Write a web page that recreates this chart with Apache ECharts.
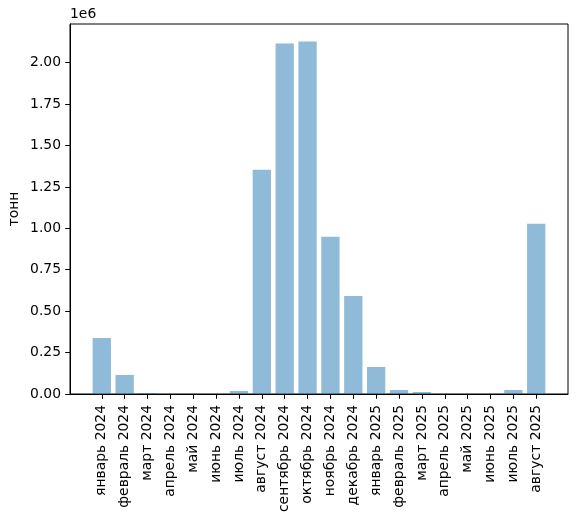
<!DOCTYPE html>
<html>
<head>
<meta charset="utf-8">
<script src="https://cdn.jsdelivr.net/npm/echarts@6/dist/echarts.min.js"></script>
<style>
  html, body { margin: 0; padding: 0; background: #fff; }
  #chart { width: 576px; height: 521px; }
</style>
</head>
<body>
<div id="chart"></div>
<script>
var months = ['январь 2024', 'февраль 2024', 'март 2024', 'апрель 2024', 'май 2024', 'июнь 2024',
  'июль 2024', 'август 2024', 'сентябрь 2024', 'октябрь 2024', 'ноябрь 2024', 'декабрь 2024',
  'январь 2025', 'февраль 2025', 'март 2025', 'апрель 2025', 'май 2025', 'июнь 2025',
  'июль 2025', 'август 2025'];
var tonnes = [338000, 115000, 6000, 0, 0, 0,
  18000, 1353000, 2116000, 2127000, 949000, 592000,
  163000, 24000, 12000, 0, 0, 0,
  24000, 1027000];
var yTicks = [0, 250000, 500000, 750000, 1000000, 1250000, 1500000, 1750000, 2000000];

// matplotlib style x limits: bars of width 0.8 plus 5% margins
var xMin = -0.4 - 0.05 * 19.8;
var xMax = 19.4 + 0.05 * 19.8;
var yMax = 2127000 * 1.05;

var idx = months.map(function (m, i) { return i; });
var barData = tonnes.map(function (v, i) { return [i, v]; });

var font = 'DejaVu Sans';
var fs = 13.9;
var myChart = echarts.init(document.getElementById('chart'));
var plotW = 498;
myChart.setOption({
  animation: false,
  grid: {
    left: 70, top: 24, width: plotW, bottom: 127,
    outerBoundsMode: 'none', containLabel: false,
    show: true, borderColor: '#000', borderWidth: 1, backgroundColor: 'transparent'
  },
  graphic: [{
    type: 'text', left: 70, top: 7,
    style: { text: '1e6', font: fs + 'px "DejaVu Sans"', fill: '#000' }
  }],
  xAxis: {
    type: 'value', min: xMin, max: xMax,
    splitLine: { show: false },
    axisLine: { onZero: false, lineStyle: { color: '#000' } },
    axisTick: { show: true, length: 4.8, lineStyle: { color: '#000' }, customValues: idx },
    axisLabel: {
      customValues: idx, rotate: 90, margin: 11, color: '#000',
      fontFamily: font, fontSize: fs,
      formatter: function (v) { return months[Math.round(v)]; }
    }
  },
  yAxis: {
    type: 'value', min: 0, max: yMax,
    name: 'тонн', nameLocation: 'middle', nameGap: 49, nameRotate: 90,
    nameMoveOverlap: false,
    nameTextStyle: { color: '#000', fontFamily: font, fontSize: fs },
    splitLine: { show: false },
    axisLine: { show: true, onZero: false, lineStyle: { color: '#000' } },
    axisTick: { show: true, length: 4.8, lineStyle: { color: '#000' }, customValues: yTicks },
    axisLabel: {
      customValues: yTicks, margin: 9, color: '#000',
      fontFamily: font, fontSize: fs,
      formatter: function (v) { return (v / 1e6).toFixed(2); }
    }
  },
  series: [{
    type: 'bar',
    data: barData,
    barWidth: plotW * 0.8 / (xMax - xMin),
    itemStyle: { color: '#1f77b4', opacity: 0.5 }
  }]
});
</script>
</body>
</html>
